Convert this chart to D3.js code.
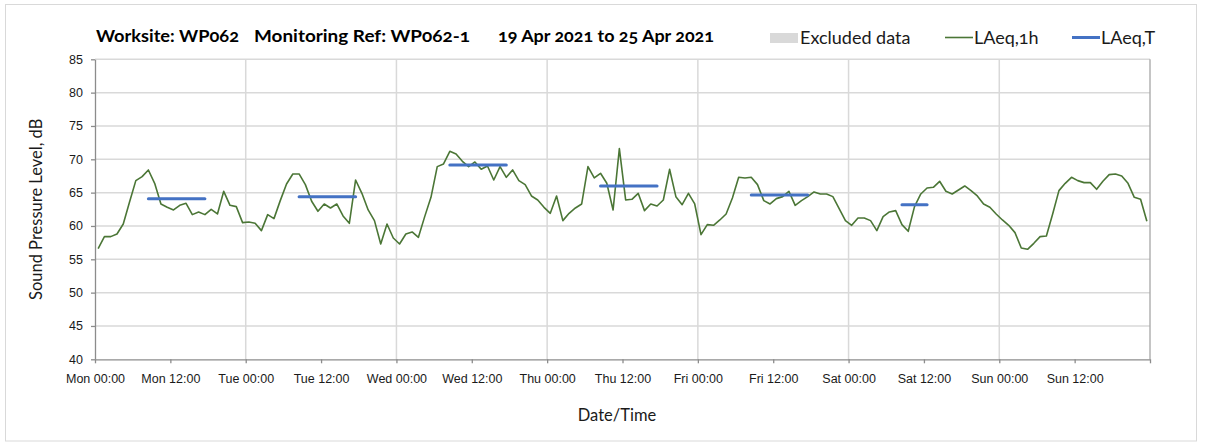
<!DOCTYPE html>
<html lang="en">
<head>
    <meta charset="UTF-8">
    <title>WP062 noise monitoring</title>
    <style>
        body { margin: 0; background: #fff; }
        svg { display: block; font-family: Lato, "Open Sans", sans-serif; font-variant-numeric: oldstyle-nums; }
        .grid line { stroke: #d9d9d9; stroke-width: 1.5px; }
        .axis path, .axis line { stroke: #8c8c8c; stroke-width: 1.3px; }
        .axis text { font-size: 12.5px; fill: #1a1a1a; }
        .title { font-size: 17.5px; font-weight: bold; fill: #000; }
        .axis-title { font-size: 16.5px; fill: #1a1a1a; }
        .legend text { font-size: 18px; fill: #1a1a1a; }
    </style>
</head>
<body>
    <svg width="1208" height="443"></svg>
    <script src="https://d3js.org/d3.v7.min.js"></script>
    <script>
        // Hourly LAeq,1h values, one array per day (00:30 .. 23:30)
        const mon = [56.6, 58.4, 58.4, 58.8, 60.3, 63.6, 66.8, 67.4, 68.4, 66.4, 63.3, 62.8, 62.4, 63.1, 63.4, 61.7, 62.1, 61.7, 62.5, 61.8, 65.2, 63.1, 62.9, 60.5];
        const tue = [60.6, 60.4, 59.3, 61.7, 61.1, 63.8, 66.3, 67.8, 67.8, 66.2, 63.7, 62.2, 63.3, 62.7, 63.3, 61.5, 60.4, 66.9, 64.9, 62.4, 60.8, 57.3, 60.3, 58.2];
        const wed = [57.3, 58.8, 59.1, 58.3, 61.4, 64.3, 68.9, 69.3, 71.2, 70.8, 69.7, 68.9, 69.6, 68.5, 69.0, 66.9, 68.9, 67.3, 68.4, 66.8, 66.2, 64.5, 63.9, 62.8];
        const thu = [61.9, 64.5, 60.8, 61.9, 62.7, 63.3, 68.9, 67.2, 67.9, 66.4, 62.4, 71.6, 63.9, 64.0, 64.9, 62.3, 63.3, 63.0, 63.9, 68.5, 64.4, 63.2, 64.9, 63.3];
        const fri = [58.7, 60.2, 60.1, 60.9, 61.8, 64.2, 67.3, 67.2, 67.3, 66.2, 63.8, 63.3, 64.1, 64.4, 65.2, 63.1, 63.8, 64.4, 65.1, 64.8, 64.8, 64.4, 62.6, 60.8];
        const sat = [60.1, 61.2, 61.2, 60.8, 59.3, 61.4, 62.1, 62.3, 60.2, 59.2, 62.9, 64.8, 65.7, 65.8, 66.7, 65.2, 64.8, 65.4, 66.0, 65.3, 64.5, 63.3, 62.8, 61.8];
        const sun = [60.9, 60.1, 59.0, 56.7, 56.5, 57.4, 58.4, 58.5, 61.8, 65.3, 66.4, 67.3, 66.8, 66.5, 66.5, 65.5, 66.7, 67.7, 67.8, 67.5, 66.4, 64.3, 64.0, 60.7];
        const hourly = [].concat(mon, tue, wed, thu, fri, sat, sun);

        // LAeq,T over the working-hours periods
        const periodStart = ["2021-04-19T08:30Z", "2021-04-20T08:30Z", "2021-04-21T08:30Z", "2021-04-22T08:30Z", "2021-04-23T08:30Z", "2021-04-24T08:30Z"];
        const periodEnd   = ["2021-04-19T17:30Z", "2021-04-20T17:30Z", "2021-04-21T17:30Z", "2021-04-22T17:30Z", "2021-04-23T17:30Z", "2021-04-24T12:30Z"];
        const periodValue = [64.1, 64.4, 69.15, 66.0, 64.65, 63.2];

        const yTicks = [40, 45, 50, 55, 60, 65, 70, 75, 80, 85];
        const weekStart = new Date("2021-04-19T00:00Z"), weekEnd = new Date("2021-04-26T00:00Z");

        const margin = { top: 59.3, right: 58, bottom: 83.7, left: 95 },
              width = 1208 - margin.left - margin.right,
              height = 443 - margin.top - margin.bottom;

        const svg = d3.select("svg");

        // outer chart border
        svg.append("rect")
            .attr("x", 5.5).attr("y", 4.5).attr("width", 1191).attr("height", 436.5)
            .attr("fill", "none").attr("stroke", "#d9d9d9");

        const g = svg.append("g").attr("transform", `translate(${margin.left},${margin.top})`);

        const x = d3.scaleUtc().domain([weekStart, weekEnd]).range([0, width]);
        const y = d3.scaleLinear().domain([40, 85]).range([height, 0]);

        const points = hourly.map((v, i) => ({ t: d3.utcMinute.offset(weekStart, 30 + 60 * i), v }));

        // gridlines
        g.append("g").attr("class", "grid")
          .selectAll("line").data(yTicks.slice(1)).join("line")
            .attr("x1", 0).attr("x2", width)
            .attr("y1", d => y(d)).attr("y2", d => y(d));
        g.append("g").attr("class", "grid")
          .selectAll("line").data(d3.utcDay.range(d3.utcDay.offset(weekStart, 1), weekEnd)).join("line")
            .attr("x1", d => x(d)).attr("x2", d => x(d))
            .attr("y1", 0).attr("y2", height);

        // right border of plot
        g.append("line").attr("x1", width).attr("x2", width).attr("y1", 0).attr("y2", height)
            .attr("stroke", "#a6a6a6").attr("stroke-width", 1.3);

        // axes
        g.append("g").attr("class", "axis")
            .call(d3.axisLeft(y).tickValues(yTicks).tickSize(4).tickPadding(8).tickSizeOuter(0));

        const xTicks = d3.utcHour.every(12).range(weekStart, d3.utcHour.offset(weekEnd, 1));
        g.append("g").attr("class", "axis")
            .attr("transform", `translate(0,${height})`)
            .call(d3.axisBottom(x).tickValues(xTicks).tickSize(4).tickPadding(11).tickSizeOuter(0)
                .tickFormat(d => +d === +weekEnd ? "" : d3.utcFormat("%a %H:%M")(d)));

        // LAeq,1h line
        g.append("path").datum(points)
            .attr("fill", "none").attr("stroke", "#4b7636").attr("stroke-width", 1.6)
            .attr("stroke-linejoin", "round")
            .attr("d", d3.line().x(d => x(d.t)).y(d => y(d.v)));

        // LAeq,T segments
        g.append("g").selectAll("line").data(periodValue).join("line")
            .attr("x1", (d, i) => x(new Date(periodStart[i])))
            .attr("x2", (d, i) => x(new Date(periodEnd[i])))
            .attr("y1", d => y(d)).attr("y2", d => y(d))
            .attr("stroke", "#4472c4").attr("stroke-width", 3).attr("stroke-linecap", "round");

        // axis titles
        svg.append("text").attr("class", "axis-title")
            .attr("x", 617).attr("y", 421).attr("text-anchor", "middle").text("Date/Time");
        svg.append("text").attr("class", "axis-title")
            .attr("transform", `translate(42,${margin.top + height / 2}) rotate(-90)`)
            .attr("text-anchor", "middle").text("Sound Pressure Level, dB");

        // title pieces, stretched to the widths they take in the original
        const titleParts = [[96, 143, "Worksite: WP062"], [254, 216, "Monitoring Ref: WP062-1"], [498, 216, "19 Apr 2021 to 25 Apr 2021"]];
        svg.append("g").selectAll("text").data(titleParts).join("text")
            .attr("class", "title").attr("x", d => d[0]).attr("y", 42)
            .attr("textLength", d => d[1]).attr("lengthAdjust", "spacingAndGlyphs")
            .text(d => d[2]);

        // legend
        const legend = svg.append("g").attr("class", "legend");
        legend.append("rect").attr("x", 770).attr("y", 33).attr("width", 28).attr("height", 10).attr("fill", "#d9d9d9");
        legend.append("text").attr("x", 800).attr("y", 44).text("Excluded data");
        legend.append("line").attr("x1", 945).attr("x2", 973).attr("y1", 37.5).attr("y2", 37.5)
            .attr("stroke", "#4b7636").attr("stroke-width", 1.6);
        legend.append("text").attr("x", 974).attr("y", 44).text("LAeq,1h");
        legend.append("line").attr("x1", 1072).attr("x2", 1100).attr("y1", 37.5).attr("y2", 37.5)
            .attr("stroke", "#4472c4").attr("stroke-width", 3);
        legend.append("text").attr("x", 1101).attr("y", 44).text("LAeq,T");
    </script>
</body>
</html>
